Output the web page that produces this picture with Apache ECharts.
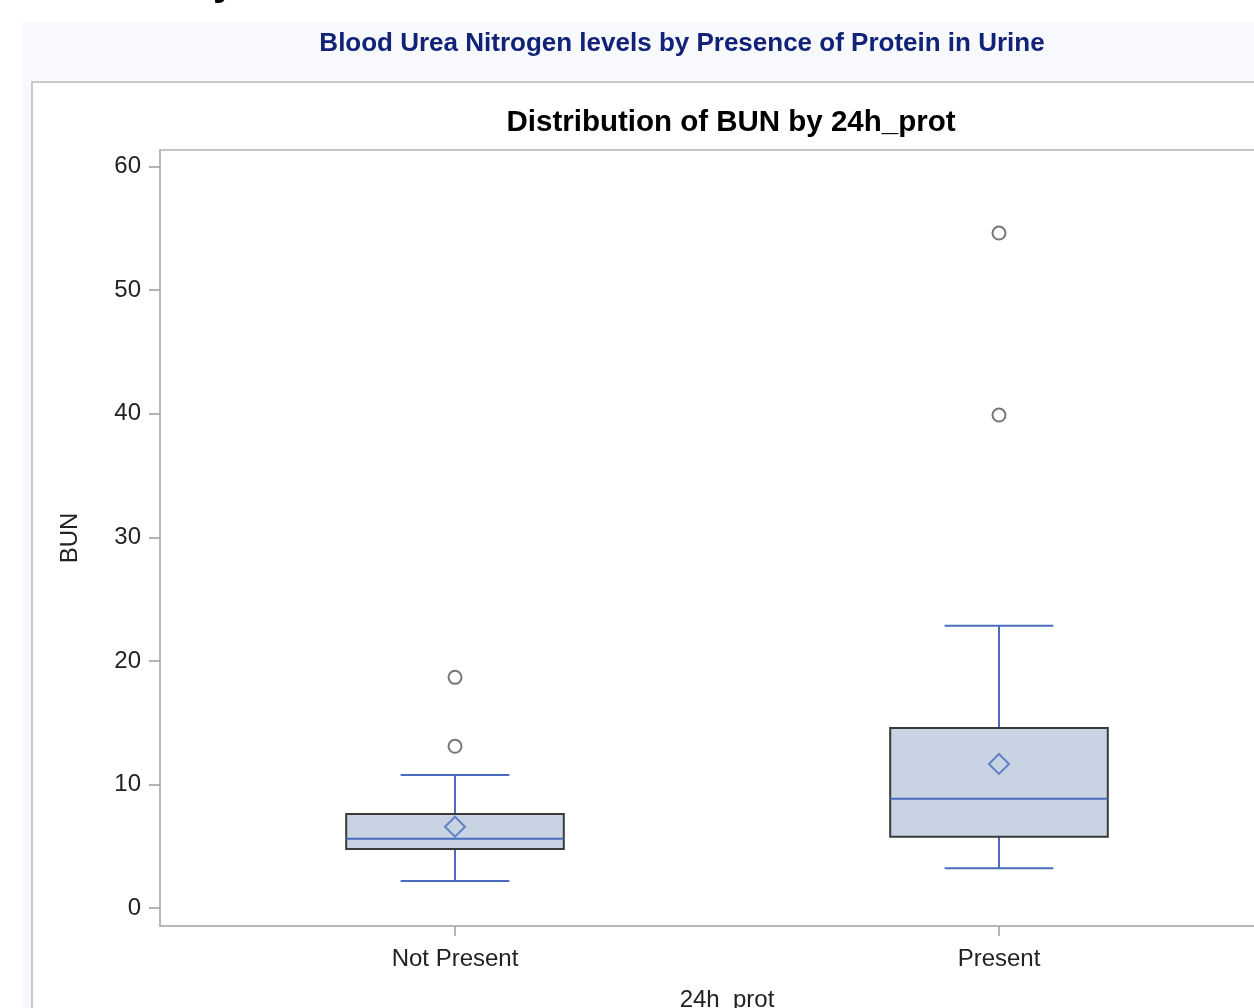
<!DOCTYPE html>
<html>
<head>
<meta charset="utf-8">
<script src="https://cdn.jsdelivr.net/npm/echarts@6/dist/echarts.min.js"></script>
<style>
html,body{margin:0;padding:0;background:#fff;}
#chart{width:1254px;height:1008px;}
</style>
</head>
<body>
<div id="chart"></div>
<script>
// ---- data ----
var categories = ['Not Present', 'Present'];
var whiskerLow = [2.19, 3.21];
var q1 = [4.78, 5.77];
var median = [5.61, 8.85];
var q3 = [7.61, 14.57];
var whiskerHigh = [10.76, 22.85];
var means = [6.58, 11.66];
var outliersNotPresent = [18.67, 13.09];
var outliersPresent = [54.63, 39.9];
var yTicks = [0, 10, 20, 30, 40, 50, 60];

var FONT = '"Liberation Sans", Arial, sans-serif';
var BLUE = '#4a6cbf';
var FRAME = '#b0b4b8';

var boxData = categories.map(function (c, i) {
  return [i, whiskerLow[i], q1[i], median[i], q3[i], whiskerHigh[i]];
});
var meanData = categories.map(function (c, i) { return [i, means[i]]; });
var outlierData = outliersNotPresent.map(function (v) { return [0, v]; })
  .concat(outliersPresent.map(function (v) { return [1, v]; }));

var chart = echarts.init(document.getElementById('chart'), null, {renderer: 'canvas'});

function renderBox(params, api) {
  var x = api.value(0);
  var lo = api.coord([x, api.value(1)]);
  var b1 = api.coord([x, api.value(2)]);
  var md = api.coord([x, api.value(3)]);
  var b3 = api.coord([x, api.value(4)]);
  var hi = api.coord([x, api.value(5)]);
  var boxW = api.size([0.4, 0])[0];
  var capW = api.size([0.2, 0])[0];
  var cx = lo[0];
  var lineStyle = {stroke: BLUE, lineWidth: 2};
  return {
    type: 'group',
    children: [
      {type: 'line', shape: {x1: cx, y1: b3[1], x2: cx, y2: hi[1]}, style: lineStyle},
      {type: 'line', shape: {x1: cx, y1: b1[1], x2: cx, y2: lo[1]}, style: lineStyle},
      {type: 'line', shape: {x1: cx - capW / 2, y1: hi[1], x2: cx + capW / 2, y2: hi[1]}, style: lineStyle},
      {type: 'line', shape: {x1: cx - capW / 2, y1: lo[1], x2: cx + capW / 2, y2: lo[1]}, style: lineStyle},
      {type: 'rect', shape: {x: cx - boxW / 2, y: b3[1], width: boxW, height: b1[1] - b3[1]},
        style: {fill: '#c8d4e4', stroke: '#3a3a3a', lineWidth: 2}},
      {type: 'line', shape: {x1: cx - boxW / 2, y1: md[1], x2: cx + boxW / 2, y2: md[1]}, style: lineStyle}
    ]
  };
}

var option = {
  animation: false,
  backgroundColor: '#ffffff',
  graphic: [
    {type: 'rect', z: -10, shape: {x: 22, y: 22, width: 1260, height: 1010}, style: {fill: '#f8f9fd'}},
    {type: 'rect', z: -9, shape: {x: 32, y: 82, width: 1260, height: 1010},
      style: {fill: '#ffffff', stroke: '#c5c8cc', lineWidth: 2}},
    {type: 'text', z: -8, left: 213, top: -36,
      style: {text: 'y', font: 'bold 40px ' + FONT, fill: '#000'}}
  ],
  title: [
    {text: 'Blood Urea Nitrogen levels by Presence of Protein in Urine', left: 677, top: 26, textAlign: 'center',
      textStyle: {color: '#112277', fontSize: 26, fontWeight: 'bold', fontFamily: FONT}},
    {text: 'Distribution of BUN by 24h_prot', left: 726, top: 103, textAlign: 'center',
      textStyle: {color: '#000', fontSize: 29.5, fontWeight: 'bold', fontFamily: FONT}}
  ],
  grid: {
    left: 160, top: 150, width: 1134, height: 776,
    outerBoundsMode: 'none', containLabel: false,
    show: true, borderColor: FRAME, borderWidth: 1.5, backgroundColor: 'transparent'
  },
  xAxis: {
    type: 'value', min: -0.5423, max: 1.5423,
    name: '24h_prot', nameLocation: 'middle', nameGap: 62,
    nameTextStyle: {fontSize: 24, color: '#222', fontFamily: FONT},
    axisLine: {show: true, onZero: false, lineStyle: {color: FRAME, width: 1.5}},
    splitLine: {show: false},
    axisTick: {show: true, length: 10, customValues: [0, 1], lineStyle: {color: '#9a9ea2', width: 1.5}},
    axisLabel: {customValues: [0, 1], margin: 21, fontSize: 24, color: '#222', fontFamily: FONT,
      formatter: function (v) { return categories[Math.round(v)]; }}
  },
  yAxis: {
    type: 'value', min: -1.457, max: 61.35,
    name: 'BUN', nameLocation: 'middle', nameGap: 78, nameRotate: 90,
    nameTextStyle: {fontSize: 24, color: '#222', fontFamily: FONT},
    axisLine: {show: true, onZero: false, lineStyle: {color: FRAME, width: 1.5}},
    splitLine: {show: false},
    axisTick: {show: true, length: 11, customValues: yTicks, lineStyle: {color: '#9a9ea2', width: 1.5}},
    axisLabel: {customValues: yTicks, margin: 19, fontSize: 24, color: '#222', fontFamily: FONT}
  },
  series: [
    {type: 'custom', renderItem: renderBox, data: boxData, encode: {x: 0, y: [1, 2, 3, 4, 5]}, z: 2},
    {type: 'scatter', data: meanData, symbol: 'diamond', symbolSize: 20, z: 3,
      itemStyle: {color: 'transparent', borderColor: BLUE, borderWidth: 2}},
    {type: 'scatter', data: outlierData, symbol: 'circle', symbolSize: 13, z: 3,
      itemStyle: {color: 'transparent', borderColor: '#555555', borderWidth: 2}}
  ]
};
chart.setOption(option);
</script>
</body>
</html>
